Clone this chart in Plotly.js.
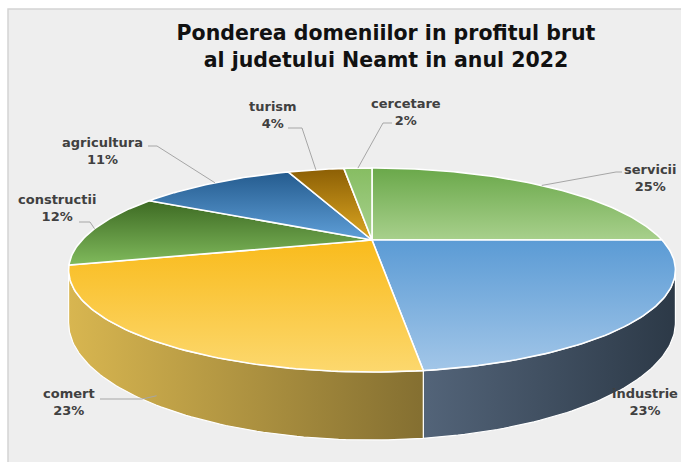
<!DOCTYPE html>
<html><head><meta charset="utf-8">
<script src="https://cdn.plot.ly/plotly-3.0.1.min.js"></script>
<style>html,body{margin:0;padding:0;background:#fff;}#chart{width:681px;height:462px;}</style>
</head><body><div id="chart"></div>
<script>
// ---- data ----
const categories = ['servicii', 'industrie', 'comert', 'constructii', 'agricultura', 'turism', 'cercetare'];
const shares = [25, 23, 23, 12, 11, 4, 2];

// ---- styles ----
const topDark  = ['#6aa84a', '#5b9bd5', '#f9bb1c', '#3d6a23', '#245b8e', '#8c5f05', '#86bd62'];
const topLight = ['#a8d08c', '#a2c6e8', '#fcd86e', '#80ba5c', '#5f9fd8', '#dca722', '#a9d18e'];
const wallLeft  = ['#4e7e33', '#536479', '#d8b650', '#4a7a2c', '#2e5f8f', '#8c6a10', '#7aa85a'];
const wallRight = ['#3f6a28', '#2c3947', '#846f31', '#3a6422', '#244c74', '#6e530c', '#5f8a45'];

// label placement (pixel space), leader elbow/end, anchor depth on wall
const labelPos = [[650, 178], [645, 402], [69, 402], [57, 208], [102, 151], [273, 115], [406, 112]];
const leaders = [[[616, 172], [622, 172]], null, [[142, 399], [100, 399]], [[90, 222], [79, 222]],
                 [[157, 146], [148, 146]], [[302, 128], [288, 128]], [[383, 123], [392, 123]]];
const anchorDepth = [0, 0, 0.85, 0, 0, 0, 0];

// ---- geometry of the tilted disc (perspective) ----
const G = {cx: 372, cy: 240, a: 290, b: 93.2, k: 0.294, h: 48};
function proj(deg, r, depth) {
  const t = deg * Math.PI / 180;
  const x = r * Math.sin(t), z = r * Math.cos(t);
  const d = 1 + G.k * z;
  return [G.cx + G.a * x / d, G.cy - G.b * z / d + (depth || 0) * G.h / d];
}
// silhouette limits of the visible side wall
const sil = Math.acos(-G.k) * 180 / Math.PI;

const total = shares.reduce((s, v) => s + v, 0);
const starts = [], ends = [];
let acc = 0;
shares.forEach(v => { starts.push(acc / total * 360); acc += v; ends.push(acc / total * 360); });

function arc(a0, a1, depth) {
  const pts = [];
  const n = Math.max(2, Math.ceil(Math.abs(a1 - a0)));
  for (let i = 0; i <= n; i++) pts.push(proj(a0 + (a1 - a0) * i / n, 1, depth));
  return pts;
}

const traces = [];
// side walls (visible front part only)
categories.forEach((c, i) => {
  const a0 = Math.max(starts[i], sil), a1 = Math.min(ends[i], 360 - sil);
  if (a1 <= a0) return;
  const pts = arc(a0, a1, 0).concat(arc(a1, a0, 1));
  pts.push(pts[0]);
  traces.push({
    type: 'scatter', mode: 'lines', x: pts.map(p => p[0]), y: pts.map(p => p[1]),
    fill: 'toself', fillgradient: {type: 'horizontal', colorscale: [[0, wallLeft[i]], [1, wallRight[i]]]},
    line: {color: '#ffffff', width: 1.2}, hoverinfo: 'skip', showlegend: false
  });
});
// top faces
categories.forEach((c, i) => {
  const pts = [[G.cx, G.cy]].concat(arc(starts[i], ends[i], 0));
  pts.push([G.cx, G.cy]);
  traces.push({
    type: 'scatter', mode: 'lines', x: pts.map(p => p[0]), y: pts.map(p => p[1]),
    fill: 'toself', fillgradient: {type: 'vertical', colorscale: [[0, topLight[i]], [1, topDark[i]]]},
    line: {color: '#ffffff', width: 1.6}, hoverinfo: 'skip', showlegend: false, name: c
  });
});
// leader lines
categories.forEach((c, i) => {
  if (!leaders[i]) return;
  const mid = (starts[i] + ends[i]) / 2;
  const p0 = proj(mid, 1, anchorDepth[i]);
  const pts = [p0].concat(leaders[i]);
  traces.push({
    type: 'scatter', mode: 'lines', x: pts.map(p => p[0]), y: pts.map(p => p[1]),
    line: {color: '#a6a6a6', width: 1}, hoverinfo: 'skip', showlegend: false
  });
});

const annotations = categories.map((c, i) => ({
  x: labelPos[i][0], y: labelPos[i][1], xref: 'x', yref: 'y', showarrow: false,
  text: c + '<br>' + Math.round(shares[i] / total * 100) + '%',
  font: {family: 'DejaVu Sans', size: 13, color: '#404040', weight: 'bold'}, align: 'center'
}));

const layout = {
  width: 681, height: 462, margin: {l: 0, r: 0, t: 0, b: 0},
  paper_bgcolor: '#ffffff', plot_bgcolor: 'rgba(0,0,0,0)',
  xaxis: {range: [0, 681], visible: false, fixedrange: true},
  yaxis: {range: [462, 0], visible: false, fixedrange: true},
  title: {
    text: 'Ponderea domeniilor in profitul brut<br>al judetului Neamt in anul 2022',
    font: {family: 'DejaVu Sans', size: 20.5, color: '#111111', weight: 'bold'},
    x: 386 / 681, xanchor: 'center', xref: 'paper', y: 1 - 40 / 462, yanchor: 'top', yref: 'paper'
  },
  shapes: [{type: 'rect', xref: 'x', yref: 'y', x0: 8, x1: 690, y0: 9, y1: 470, layer: 'below',
            fillcolor: '#eeeeee', line: {color: '#d4d4d4', width: 1.5}}],
  annotations: annotations,
  showlegend: false
};

Plotly.newPlot('chart', traces, layout, {displayModeBar: false, staticPlot: true});
</script></body></html>
